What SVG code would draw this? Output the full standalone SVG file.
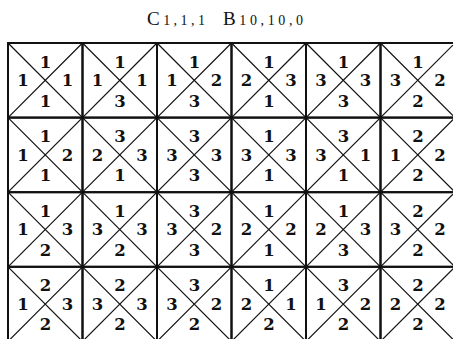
<svg xmlns="http://www.w3.org/2000/svg" width="453" height="339" viewBox="0 0 453 339">
<style>
.bg{fill:#fff}
.cell{fill:none;stroke:#111;stroke-width:2}
.d{stroke:#111;stroke-width:1.2}
.n{font-family:"DejaVu Serif","Liberation Serif",serif;font-weight:bold;font-size:16.5px;fill:#111;text-anchor:middle}
.t{font-family:"Liberation Serif",serif;font-size:19px;fill:#111}
.s{font-size:14px}
</style>
<defs>
<g id="x">
<rect class="cell" x="0" y="0" width="74.5" height="74.6"/>
<line class="d" x1="0" y1="0" x2="74.5" y2="74.6"/>
<line class="d" x1="74.5" y1="0" x2="0" y2="74.6"/>
</g>
</defs>
<rect class="bg" x="0" y="0" width="453" height="339"/>
<g id="title">
<text class="t" x="147" y="25" textLength="58" lengthAdjust="spacing">C<tspan class="s">1,1,1</tspan></text>
<text class="t" x="223" y="25" textLength="80" lengthAdjust="spacing">B<tspan class="s">10,10,0</tspan></text>
</g>
<g id="grid">
<g id="r0c0" transform="translate(8,43)"><use href="#x"/><text class="n" x="37.5" y="24.5">1</text><text class="n" x="15" y="43">1</text><text class="n" x="59.5" y="43">1</text><text class="n" x="37.5" y="63.5">1</text></g>
<g id="r0c1" transform="translate(82.5,43)"><use href="#x"/><text class="n" x="37.5" y="24.5">1</text><text class="n" x="15" y="43">1</text><text class="n" x="59.5" y="43">1</text><text class="n" x="37.5" y="63.5">3</text></g>
<g id="r0c2" transform="translate(157,43)"><use href="#x"/><text class="n" x="37.5" y="24.5">1</text><text class="n" x="15" y="43">1</text><text class="n" x="59.5" y="43">2</text><text class="n" x="37.5" y="63.5">3</text></g>
<g id="r0c3" transform="translate(231.5,43)"><use href="#x"/><text class="n" x="37.5" y="24.5">1</text><text class="n" x="15" y="43">2</text><text class="n" x="59.5" y="43">3</text><text class="n" x="37.5" y="63.5">1</text></g>
<g id="r0c4" transform="translate(306,43)"><use href="#x"/><text class="n" x="37.5" y="24.5">1</text><text class="n" x="15" y="43">3</text><text class="n" x="59.5" y="43">3</text><text class="n" x="37.5" y="63.5">3</text></g>
<g id="r0c5" transform="translate(380.5,43)"><use href="#x"/><text class="n" x="37.5" y="24.5">1</text><text class="n" x="15" y="43">3</text><text class="n" x="59.5" y="43">2</text><text class="n" x="37.5" y="63.5">2</text></g>

<g id="r1c0" transform="translate(8,117.6)"><use href="#x"/><text class="n" x="37.5" y="24.5">1</text><text class="n" x="15" y="43">1</text><text class="n" x="59.5" y="43">2</text><text class="n" x="37.5" y="63.5">1</text></g>
<g id="r1c1" transform="translate(82.5,117.6)"><use href="#x"/><text class="n" x="37.5" y="24.5">3</text><text class="n" x="15" y="43">2</text><text class="n" x="59.5" y="43">3</text><text class="n" x="37.5" y="63.5">1</text></g>
<g id="r1c2" transform="translate(157,117.6)"><use href="#x"/><text class="n" x="37.5" y="24.5">3</text><text class="n" x="15" y="43">3</text><text class="n" x="59.5" y="43">3</text><text class="n" x="37.5" y="63.5">3</text></g>
<g id="r1c3" transform="translate(231.5,117.6)"><use href="#x"/><text class="n" x="37.5" y="24.5">1</text><text class="n" x="15" y="43">3</text><text class="n" x="59.5" y="43">3</text><text class="n" x="37.5" y="63.5">1</text></g>
<g id="r1c4" transform="translate(306,117.6)"><use href="#x"/><text class="n" x="37.5" y="24.5">3</text><text class="n" x="15" y="43">3</text><text class="n" x="59.5" y="43">1</text><text class="n" x="37.5" y="63.5">1</text></g>
<g id="r1c5" transform="translate(380.5,117.6)"><use href="#x"/><text class="n" x="37.5" y="24.5">2</text><text class="n" x="15" y="43">1</text><text class="n" x="59.5" y="43">2</text><text class="n" x="37.5" y="63.5">2</text></g>

<g id="r2c0" transform="translate(8,192.2)"><use href="#x"/><text class="n" x="37.5" y="24.5">1</text><text class="n" x="15" y="43">1</text><text class="n" x="59.5" y="43">3</text><text class="n" x="37.5" y="63.5">2</text></g>
<g id="r2c1" transform="translate(82.5,192.2)"><use href="#x"/><text class="n" x="37.5" y="24.5">1</text><text class="n" x="15" y="43">3</text><text class="n" x="59.5" y="43">3</text><text class="n" x="37.5" y="63.5">2</text></g>
<g id="r2c2" transform="translate(157,192.2)"><use href="#x"/><text class="n" x="37.5" y="24.5">3</text><text class="n" x="15" y="43">3</text><text class="n" x="59.5" y="43">2</text><text class="n" x="37.5" y="63.5">3</text></g>
<g id="r2c3" transform="translate(231.5,192.2)"><use href="#x"/><text class="n" x="37.5" y="24.5">1</text><text class="n" x="15" y="43">2</text><text class="n" x="59.5" y="43">2</text><text class="n" x="37.5" y="63.5">1</text></g>
<g id="r2c4" transform="translate(306,192.2)"><use href="#x"/><text class="n" x="37.5" y="24.5">1</text><text class="n" x="15" y="43">2</text><text class="n" x="59.5" y="43">3</text><text class="n" x="37.5" y="63.5">3</text></g>
<g id="r2c5" transform="translate(380.5,192.2)"><use href="#x"/><text class="n" x="37.5" y="24.5">2</text><text class="n" x="15" y="43">3</text><text class="n" x="59.5" y="43">2</text><text class="n" x="37.5" y="63.5">2</text></g>

<g id="r3c0" transform="translate(8,266.8)"><use href="#x"/><text class="n" x="37.5" y="24.5">2</text><text class="n" x="15" y="43">1</text><text class="n" x="59.5" y="43">3</text><text class="n" x="37.5" y="63.5">2</text></g>
<g id="r3c1" transform="translate(82.5,266.8)"><use href="#x"/><text class="n" x="37.5" y="24.5">2</text><text class="n" x="15" y="43">3</text><text class="n" x="59.5" y="43">3</text><text class="n" x="37.5" y="63.5">2</text></g>
<g id="r3c2" transform="translate(157,266.8)"><use href="#x"/><text class="n" x="37.5" y="24.5">3</text><text class="n" x="15" y="43">3</text><text class="n" x="59.5" y="43">2</text><text class="n" x="37.5" y="63.5">2</text></g>
<g id="r3c3" transform="translate(231.5,266.8)"><use href="#x"/><text class="n" x="37.5" y="24.5">1</text><text class="n" x="15" y="43">2</text><text class="n" x="59.5" y="43">1</text><text class="n" x="37.5" y="63.5">2</text></g>
<g id="r3c4" transform="translate(306,266.8)"><use href="#x"/><text class="n" x="37.5" y="24.5">3</text><text class="n" x="15" y="43">1</text><text class="n" x="59.5" y="43">2</text><text class="n" x="37.5" y="63.5">2</text></g>
<g id="r3c5" transform="translate(380.5,266.8)"><use href="#x"/><text class="n" x="37.5" y="24.5">2</text><text class="n" x="15" y="43">2</text><text class="n" x="59.5" y="43">2</text><text class="n" x="37.5" y="63.5">2</text></g>
</g>
</svg>
